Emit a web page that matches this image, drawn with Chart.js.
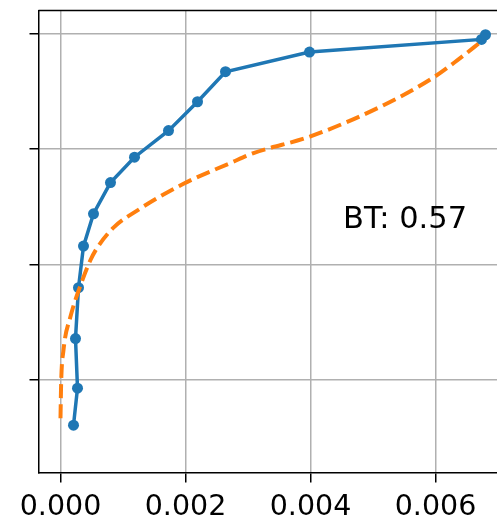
<!DOCTYPE html>
<html>
<head>
<meta charset="utf-8">
<script src="https://cdn.jsdelivr.net/npm/chart.js@4/dist/chart.umd.min.js"></script>
<style>
  html, body { margin: 0; padding: 0; background: #fff; }
  canvas { display: block; }
</style>
</head>
<body>
<canvas id="chart" width="497" height="524"></canvas>
<script>
// blue series (with markers)
const blueX = [0.000208, 0.000272, 0.00024, 0.000288, 0.000368, 0.000528, 0.0008, 0.001184, 0.001728, 0.002192, 0.00264, 0.003984, 0.006736, 0.0068]
const blueY = [0.61, 0.93, 1.36, 1.80, 2.16, 2.44, 2.71, 2.93, 3.16, 3.41, 3.67, 3.84, 3.95, 3.99]
// orange dashed series
const orangeX = [0, 0.00001, 0.000048, 0.00016, 0.00032, 0.00048, 0.000592, 0.000848, 0.001232, 0.001968, 0.00272, 0.003088, 0.004, 0.005168, 0.005968, 0.006352, 0.006752]
const orangeY = [0.67, 0.97, 1.26, 1.55, 1.82, 2.04, 2.15, 2.32, 2.47, 2.70, 2.88, 2.965, 3.11, 3.38, 3.62, 3.77, 3.94]
const xTicks = [0, 0.002, 0.004, 0.006]
const yTicks = [1, 2, 3, 4]
const note = 'BT: 0.57'

const FONT = 'DejaVu Sans'

function pts(xs, ys) {
    return xs.map((x, i) => ({ x: x, y: ys[i] }))
}

// matplotlib style top spine + text label
const extras = {
    id: 'extras',
    afterDraw(chart) {
        const ctx = chart.ctx
        const a = chart.chartArea
        ctx.save()
        ctx.strokeStyle = '#000'
        ctx.lineWidth = 1.5
        ctx.beginPath()
        ctx.moveTo(a.left, a.top)
        ctx.lineTo(a.right + 2, a.top)
        ctx.stroke()
        ctx.fillStyle = '#000'
        ctx.font = '30.5px "' + FONT + '"'
        ctx.textBaseline = 'alphabetic'
        ctx.fillText(note, 343, 228)
        ctx.restore()
    }
}

new Chart(document.getElementById('chart'), {
    type: 'line',
    data: {
        datasets: [
            {
                data: pts(blueX, blueY),
                borderColor: '#1f77b4',
                backgroundColor: '#1f77b4',
                borderWidth: 3.5,
                pointRadius: 5.5,
                pointBorderWidth: 0,
                tension: 0,
                order: 1,
            },
            {
                data: pts(orangeX, orangeY),
                borderColor: '#ff7f0e',
                borderWidth: 4,
                borderDash: [14, 6],
                pointRadius: 0,
                cubicInterpolationMode: 'monotone',
                order: 0,
            },
        ],
    },
    options: {
        responsive: false,
        animation: false,
        devicePixelRatio: 1,
        layout: { autoPadding: false, padding: { left: 0, right: 0, top: 10.5, bottom: 0 } },
        plugins: { legend: { display: false }, tooltip: { enabled: false } },
        scales: {
            x: {
                type: 'linear',
                min: -0.000352,
                max: 0.006984,
                afterBuildTicks: (s) => { s.ticks = xTicks.map(v => ({ value: v })) },
                afterFit: (s) => { s.height = 51.5; s.paddingRight = 0; s.paddingLeft = 0 },
                ticks: {
                    font: { family: FONT, size: 28.5 },
                    color: '#000',
                    padding: 8,
                    maxRotation: 0,
                    callback: (v) => v.toFixed(3),
                },
                grid: { color: '#b0b0b0', lineWidth: 1.5, tickLength: 10, tickColor: '#000', tickWidth: 1.5 },
                border: { color: '#000', width: 1.5 },
            },
            y: {
                type: 'linear',
                min: 0.2,
                max: 4.2,
                afterBuildTicks: (s) => { s.ticks = yTicks.map(v => ({ value: v })) },
                afterFit: (s) => { s.width = 38.5 },
                ticks: { display: false },
                grid: { color: '#b0b0b0', lineWidth: 1.5, tickLength: 9, tickColor: '#000', tickWidth: 1.5 },
                border: { color: '#000', width: 1.5 },
            },
        },
    },
    plugins: [extras],
})
</script>
</body>
</html>
